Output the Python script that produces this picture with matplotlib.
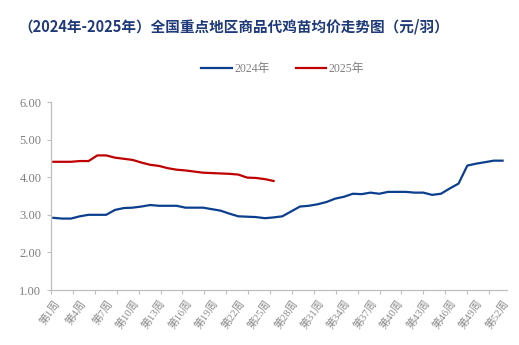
import numpy as np
import matplotlib.pyplot as plt

# --- Data ---
weeks = [f"第{i}周" for i in range(1, 53)]
price_2024 = [2.92, 2.90, 2.90, 2.96, 3.00, 3.00, 3.00, 3.13, 3.18, 3.19,
              3.22, 3.26, 3.24, 3.24, 3.24, 3.19, 3.19, 3.19, 3.15, 3.11,
              3.03, 2.96, 2.95, 2.94, 2.91, 2.93, 2.96, 3.09, 3.22, 3.24,
              3.28, 3.34, 3.43, 3.48, 3.56, 3.55, 3.59, 3.56, 3.61, 3.61,
              3.61, 3.59, 3.59, 3.53, 3.56, 3.70, 3.83, 4.31, 4.36, 4.40,
              4.44, 4.44]
price_2025 = [4.41, 4.41, 4.41, 4.43, 4.43, 4.58, 4.58, 4.52, 4.49, 4.46,
              4.39, 4.33, 4.30, 4.24, 4.20, 4.18, 4.15, 4.12, 4.11, 4.10,
              4.09, 4.07, 3.99, 3.98, 3.95, 3.90]
yticks = [1, 2, 3, 4, 5, 6]

gray = "#7F7F7F"
axis_gray = "#BFBFBF"
num_font = ["Liberation Serif", "Noto Sans CJK SC"]

fig = plt.figure(figsize=(5.19, 3.45), dpi=100, facecolor="white")
ax = fig.add_axes([0.0983, 0.1594, 0.8777, 0.5449])

x24 = np.arange(len(price_2024))
x25 = np.arange(len(price_2025))
ax.plot(x24, price_2024, color="#0B3F8E", linewidth=1.6, label="2024年")
ax.plot(x25, price_2025, color="#C00000", linewidth=1.6, label="2025年")

# --- Axes ---
ax.set_ylim(1, 6)
ax.set_xlim(-0.26, 51.45)
ax.set_yticks(yticks)
ax.set_yticklabels([f"{v:.2f}" for v in yticks], color=gray,
                   fontsize=9, family=num_font)

# labels every 3 weeks, tick marks on their own spacing
lab_idx = list(range(0, 52, 3))
ax.set_xticks(lab_idx)
ax.set_xticklabels([weeks[i] for i in lab_idx], rotation=55, ha="right",
                   rotation_mode="anchor", color="#8C8C8C", fontsize=7.8,
                   family=num_font)
ax.tick_params(axis="x", which="major", length=0, pad=6)
ax.set_xticks(np.arange(-0.26, 51.0, 2.486), minor=True)
ax.tick_params(axis="x", which="minor", length=3, color=axis_gray, width=0.8)
ax.tick_params(axis="y", length=3, color=axis_gray, width=0.8, pad=4)

for side in ["top", "right"]:
    ax.spines[side].set_visible(False)
for side in ["left", "bottom"]:
    ax.spines[side].set_color(axis_gray)
    ax.spines[side].set_linewidth(0.9)

# --- Title & legend ---
fig.text(0.036, 0.922, "（2024年-2025年）全国重点地区商品代鸡苗均价走势图（元/羽）",
         fontsize=10.5, fontweight="bold", color="#1F3A7A",
         family=["Noto Sans CJK SC"], va="center")

leg = fig.legend(loc="center", bbox_to_anchor=(0.545, 0.80), ncol=2,
                 frameon=False, handlelength=2.6,
                 columnspacing=2.2, handletextpad=0.2,
                 prop={"family": num_font, "size": 8.5})
for t in leg.get_texts():
    t.set_color(gray)

fig.savefig("out.png", dpi=100, facecolor="white")
